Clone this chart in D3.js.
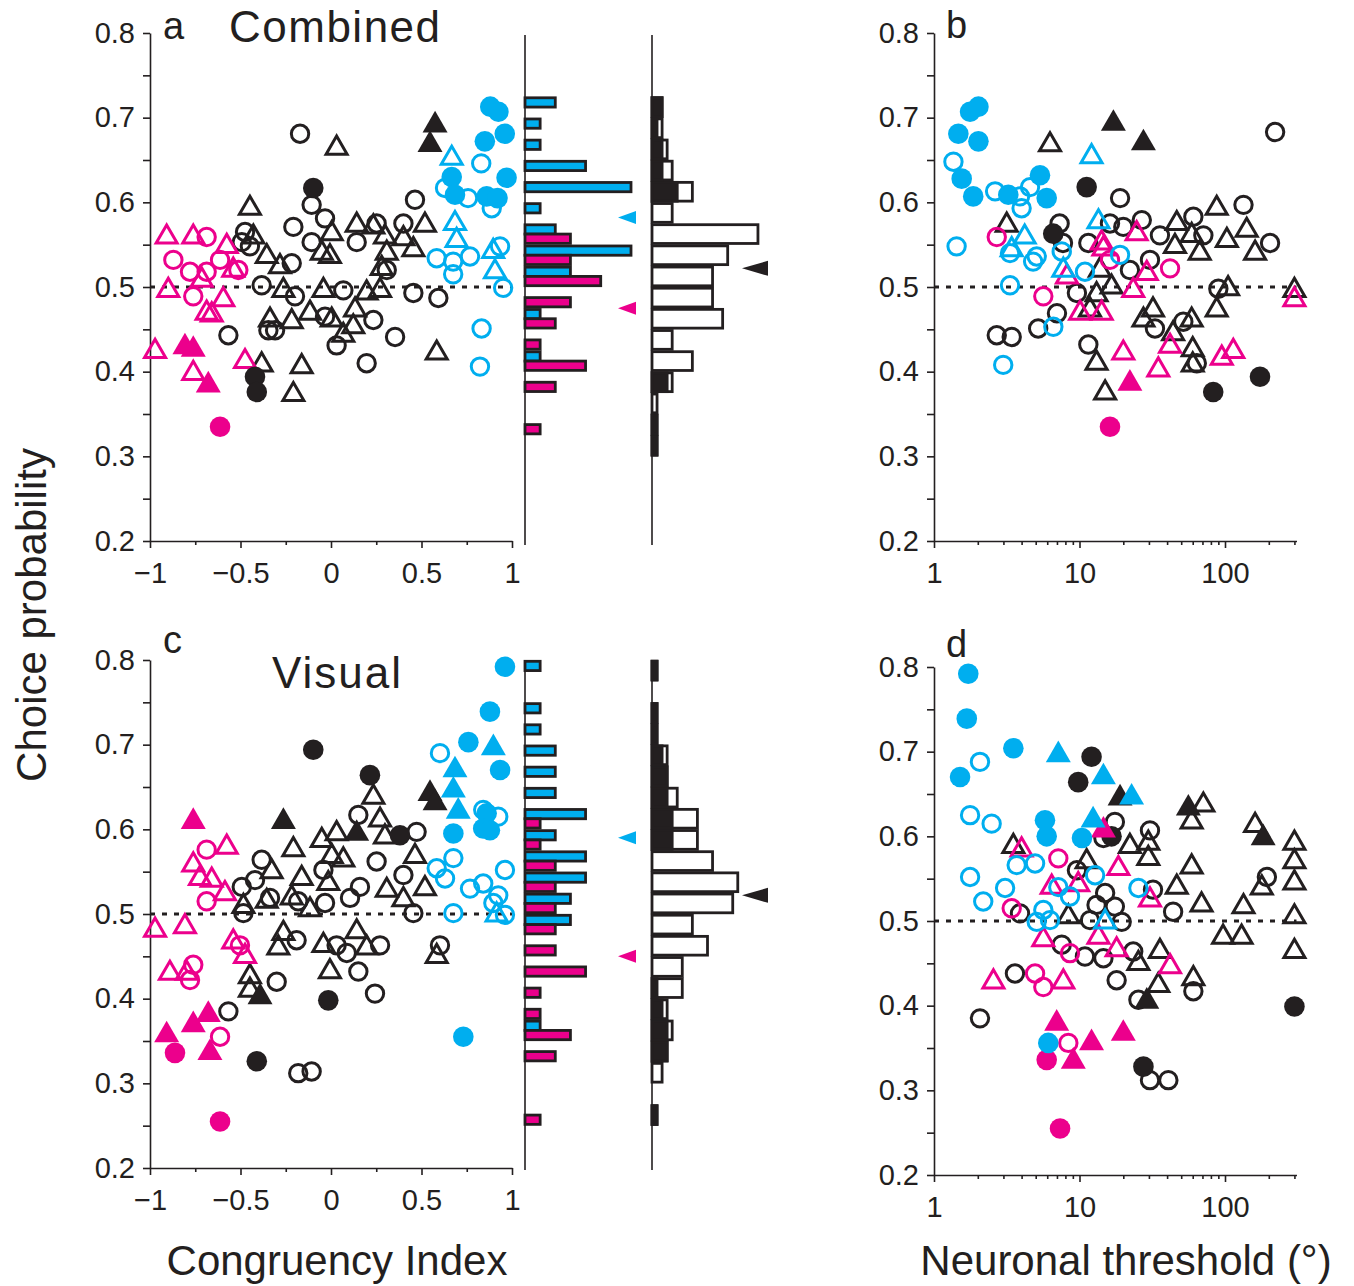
<!DOCTYPE html>
<html>
<head>
<meta charset="utf-8">
<script src="https://cdnjs.cloudflare.com/ajax/libs/d3/7.8.5/d3.min.js"></script>
<style>
body { margin: 0; background: #fff; }
svg { font-family: "Liberation Sans", Arial, Helvetica, sans-serif; }
</style>
</head>
<body>
<script>
// tick values
var cpMajor = [0.2, 0.3, 0.4, 0.5, 0.6, 0.7, 0.8];
var cpMinor = [0.25, 0.35, 0.45, 0.55, 0.65, 0.75];
var ciMajor = [-1, -0.5, 0, 0.5, 1];
var ciMinor = [-0.75, -0.25, 0.25, 0.75];
var thrMajor = [1, 10, 100];
var thrMinor = [2, 3, 4, 5, 6, 7, 8, 9, 20, 30, 40, 50, 60, 70, 80, 90, 200, 300];

// codes: colour k/b/m, shape c (circle) t (triangle), upper case = filled (significant CP)
// panel a: combined CP vs congruency index  [CI, CP, code]
var combinedCI = [
  [0.88,0.713,"bC"],[0.925,0.707,"bC"],[0.85,0.672,"bC"],[0.96,0.681,"bC"],[0.97,0.629,"bC"],
  [0.667,0.630,"bC"],[0.685,0.609,"bC"],[0.86,0.607,"bC"],[0.92,0.605,"bC"],
  [0.83,0.646,"bc"],[0.63,0.617,"bc"],[0.757,0.605,"bc"],[0.888,0.593,"bc"],[0.584,0.534,"bc"],
  [0.675,0.515,"bc"],[0.768,0.536,"bc"],[0.675,0.530,"bc"],[0.934,0.548,"bc"],[0.951,0.499,"bc"],
  [0.832,0.451,"bc"],[0.823,0.406,"bc"],
  [0.667,0.652,"bt"],[0.685,0.575,"bt"],[0.694,0.555,"bt"],[0.896,0.542,"bt"],[0.906,0.518,"bt"],
  [0.575,0.691,"kT"],[0.547,0.668,"kT"],
  [-0.098,0.617,"kC"],[-0.42,0.394,"kC"],[-0.41,0.376,"kC"],
  [-0.613,0.335,"mC"],
  [-0.678,0.384,"mT"],[-0.807,0.429,"mT"],[-0.761,0.426,"mT"],
  [-0.908,0.559,"mt"],[-0.761,0.559,"mt"],[-0.576,0.548,"mt"],[-0.54,0.52,"mt"],[-0.714,0.508,"mt"],
  [-0.899,0.496,"mt"],[-0.595,0.485,"mt"],[-0.687,0.469,"mt"],[-0.659,0.467,"mt"],[-0.972,0.424,"mt"],
  [-0.761,0.398,"mt"],[-0.475,0.412,"mt"],
  [-0.687,0.559,"mc"],[-0.871,0.532,"mc"],[-0.779,0.518,"mc"],[-0.687,0.518,"mc"],[-0.613,0.532,"mc"],
  [-0.512,0.52,"mc"],[-0.761,0.489,"mc"],
  [0.031,0.664,"kt"],[-0.448,0.593,"kt"],[-0.429,0.559,"kt"],[-0.355,0.536,"kt"],[-0.282,0.524,"kt"],
  [-0.263,0.496,"kt"],[-0.337,0.461,"kt"],[-0.217,0.459,"kt"],[-0.116,0.469,"kt"],[-0.042,0.496,"kt"],
  [0.004,0.461,"kt"],[-0.051,0.54,"kt"],[-0.006,0.536,"kt"],[0.004,0.563,"kt"],[0.142,0.573,"kt"],
  [0.234,0.571,"kt"],[0.298,0.559,"kt"],[0.308,0.54,"kt"],[0.28,0.522,"kt"],[0.271,0.496,"kt"],
  [0.197,0.493,"kt"],[0.133,0.473,"kt"],[0.123,0.453,"kt"],[0.068,0.443,"kt"],[0.40,0.557,"kt"],
  [0.455,0.544,"kt"],[0.519,0.573,"kt"],[0.584,0.422,"kt"],[-0.383,0.408,"kt"],[-0.162,0.406,"kt"],
  [-0.208,0.373,"kt"],
  [-0.171,0.681,"kc"],[-0.107,0.597,"kc"],[-0.033,0.581,"kc"],[-0.208,0.571,"kc"],[-0.107,0.553,"kc"],
  [-0.475,0.565,"kc"],[-0.493,0.553,"kc"],[-0.448,0.548,"kc"],[-0.217,0.528,"kc"],[-0.383,0.502,"kc"],
  [-0.199,0.489,"kc"],[0.068,0.496,"kc"],[0.142,0.553,"kc"],[0.252,0.575,"kc"],[0.40,0.575,"kc"],
  [0.308,0.52,"kc"],[0.464,0.603,"kc"],[0.455,0.493,"kc"],[0.593,0.487,"kc"],[0.234,0.461,"kc"],
  [-0.033,0.465,"kc"],[-0.309,0.449,"kc"],[-0.346,0.449,"kc"],[0.031,0.431,"kc"],[0.354,0.441,"kc"],
  [-0.567,0.443,"kc"],[0.197,0.41,"kc"]
];

// panel b: combined CP vs neuronal threshold (deg)  [threshold, CP, code]
var combinedThr = [
  [1.77,0.707,"bC"],[2.02,0.713,"bC"],[1.47,0.681,"bC"],[2.02,0.672,"bC"],[1.55,0.628,"bC"],
  [1.86,0.607,"bC"],[3.24,0.609,"bC"],[5.35,0.632,"bC"],[5.95,0.605,"bC"],
  [1.36,0.648,"bc"],[2.63,0.613,"bc"],[3.9,0.607,"bc"],[4.0,0.593,"bc"],[4.57,0.618,"bc"],
  [1.43,0.548,"bc"],[3.33,0.54,"bc"],[5.08,0.536,"bc"],[3.33,0.502,"bc"],[6.61,0.453,"bc"],
  [2.99,0.408,"bc"],[7.55,0.542,"bc"],[10.9,0.518,"bc"],[19,0.538,"bc"],[4.8,0.53,"bc"],
  [12.1,0.654,"bt"],[13.5,0.577,"bt"],[4.2,0.559,"bt"],[3.42,0.544,"bt"],[7.74,0.52,"bt"],
  [17.1,0.693,"kT"],[27.5,0.67,"kT"],
  [11.2,0.618,"kC"],[83,0.376,"kC"],[174,0.394,"kC"],[6.6,0.563,"kC"],
  [16.2,0.335,"mC"],
  [22.2,0.386,"mT"],
  [24.7,0.563,"mt"],[14.2,0.552,"mt"],[14.6,0.545,"mt"],[29,0.516,"mt"],[23.4,0.496,"mt"],
  [8.2,0.512,"mt"],[10.1,0.469,"mt"],[14.2,0.469,"mt"],[20,0.422,"mt"],[41.9,0.43,"mt"],
  [34.8,0.402,"mt"],[95,0.416,"mt"],[114,0.424,"mt"],[300,0.485,"mt"],
  [2.7,0.559,"mc"],[5.64,0.489,"mc"],[41.9,0.522,"mc"],[16.2,0.532,"mc"],
  [6.27,0.668,"kt"],[3.16,0.573,"kt"],[46.6,0.575,"kt"],[87.7,0.593,"kt"],[141,0.567,"kt"],
  [103,0.555,"kt"],[161,0.54,"kt"],[67,0.54,"kt"],[59,0.561,"kt"],[45.3,0.548,"kt"],
  [13.8,0.52,"kt"],[16.6,0.5,"kt"],[13.1,0.491,"kt"],[11.8,0.473,"kt"],[105,0.498,"kt"],
  [87.7,0.473,"kt"],[300,0.496,"kt"],[32,0.473,"kt"],[27.5,0.461,"kt"],[59,0.461,"kt"],
  [44,0.445,"kt"],[60,0.426,"kt"],[60,0.408,"kt"],[13.1,0.41,"kt"],[15,0.375,"kt"],
  [221,0.683,"kc"],[19,0.605,"kc"],[134,0.597,"kc"],[60.6,0.583,"kc"],[7.3,0.575,"kc"],
  [16.2,0.575,"kc"],[20,0.571,"kc"],[26.8,0.579,"kc"],[35.7,0.561,"kc"],[71,0.561,"kc"],
  [204,0.552,"kc"],[11.5,0.552,"kc"],[7.7,0.552,"kc"],[22.2,0.52,"kc"],[30.5,0.532,"kc"],
  [90,0.498,"kc"],[9.6,0.493,"kc"],[7.0,0.469,"kc"],[5.2,0.451,"kc"],[2.7,0.443,"kc"],
  [3.42,0.441,"kc"],[11.5,0.432,"kc"],[33,0.451,"kc"],[51.7,0.459,"kc"],[64,0.41,"kc"]
];

// panel c: visual CP vs congruency index
var visualCI = [
  [0.961,0.792,"bC"],[0.878,0.739,"bC"],[0.759,0.703,"bC"],[0.934,0.67,"bC"],[0.86,0.619,"bC"],
  [0.841,0.601,"bC"],[0.676,0.595,"bC"],[0.878,0.599,"bC"],[0.731,0.355,"bC"],
  [0.897,0.696,"bT"],[0.685,0.67,"bT"],[0.676,0.646,"bT"],[0.703,0.621,"bT"],
  [0.602,0.69,"bc"],[0.841,0.623,"bc"],[0.924,0.615,"bc"],[0.676,0.566,"bc"],[0.584,0.554,"bc"],
  [0.63,0.542,"bc"],[0.961,0.552,"bc"],[0.768,0.53,"bc"],[0.841,0.536,"bc"],[0.924,0.522,"bc"],
  [0.897,0.513,"bc"],[0.676,0.501,"bc"],[0.961,0.499,"bc"],
  [0.915,0.499,"bt"],
  [-0.098,0.694,"kC"],[0.215,0.664,"kC"],[0.381,0.593,"kC"],[-0.015,0.398,"kC"],[-0.41,0.326,"kC"],
  [-0.263,0.609,"kT"],[0.547,0.642,"kT"],[0.575,0.631,"kT"],[0.142,0.595,"kT"],[-0.392,0.402,"kT"],
  [-0.761,0.609,"mT"],[-0.908,0.357,"mT"],[-0.761,0.369,"mT"],[-0.678,0.381,"mT"],[-0.669,0.336,"mT"],
  [-0.862,0.336,"mC"],[-0.613,0.255,"mC"],
  [-0.576,0.579,"mt"],[-0.761,0.558,"mt"],[-0.724,0.542,"mt"],[-0.659,0.54,"mt"],[-0.586,0.524,"mt"],
  [-0.972,0.481,"mt"],[-0.807,0.485,"mt"],[-0.54,0.467,"mt"],[-0.475,0.45,"mt"],[-0.89,0.43,"mt"],
  [-0.797,0.43,"mt"],
  [-0.687,0.576,"mc"],[-0.687,0.515,"mc"],[-0.761,0.44,"mc"],[-0.779,0.422,"mc"],[-0.613,0.355,"mc"],
  [-0.503,0.463,"mc"],
  [0.234,0.638,"kt"],[0.271,0.611,"kt"],[0.298,0.591,"kt"],[0.031,0.595,"kt"],[-0.051,0.587,"kt"],
  [0.004,0.568,"kt"],[0.068,0.564,"kt"],[-0.208,0.576,"kt"],[-0.328,0.55,"kt"],[-0.162,0.542,"kt"],
  [-0.015,0.536,"kt"],[-0.217,0.519,"kt"],[-0.355,0.515,"kt"],[-0.484,0.509,"kt"],[-0.116,0.505,"kt"],
  [0.308,0.528,"kt"],[0.40,0.517,"kt"],[0.464,0.568,"kt"],[0.519,0.53,"kt"],[-0.263,0.477,"kt"],
  [-0.291,0.46,"kt"],[-0.042,0.463,"kt"],[0.142,0.479,"kt"],[0.197,0.46,"kt"],[-0.006,0.432,"kt"],
  [-0.448,0.426,"kt"],[-0.448,0.41,"kt"],[0.584,0.45,"kt"],
  [0.151,0.617,"kc"],[0.473,0.597,"kc"],[-0.383,0.564,"kc"],[0.252,0.562,"kc"],[0.40,0.546,"kc"],
  [-0.493,0.532,"kc"],[-0.42,0.54,"kc"],[-0.337,0.519,"kc"],[-0.181,0.515,"kc"],[-0.033,0.513,"kc"],
  [0.105,0.519,"kc"],[0.16,0.532,"kc"],[-0.042,0.552,"kc"],[0.455,0.501,"kc"],[-0.19,0.469,"kc"],
  [0.031,0.463,"kc"],[0.087,0.454,"kc"],[0.271,0.463,"kc"],[0.602,0.463,"kc"],[0.151,0.432,"kc"],
  [0.243,0.406,"kc"],[-0.30,0.42,"kc"],[-0.567,0.385,"kc"],[-0.181,0.312,"kc"],[-0.107,0.314,"kc"],
  [-0.484,0.501,"kc"]
];

// panel d: visual CP vs neuronal threshold (deg)
var visualThr = [
  [1.72,0.792,"bC"],[1.68,0.739,"bC"],[3.51,0.704,"bC"],[1.51,0.67,"bC"],[5.79,0.619,"bC"],
  [5.95,0.6,"bC"],[10.4,0.598,"bC"],[6.1,0.356,"bC"],
  [7.15,0.696,"bT"],[14.6,0.67,"bT"],[22.8,0.646,"bT"],[12.4,0.619,"bT"],
  [2.07,0.688,"bc"],[1.77,0.625,"bc"],[2.49,0.615,"bc"],[3.7,0.566,"bc"],[4.95,0.568,"bc"],
  [1.77,0.552,"bc"],[3.08,0.539,"bc"],[2.18,0.523,"bc"],[5.64,0.513,"bc"],[5.08,0.499,"bc"],
  [6.27,0.501,"bc"],[7.15,0.54,"bc"],[8.6,0.529,"bc"],[12.8,0.554,"bc"],[25.4,0.539,"bc"],
  [15,0.499,"bt"],
  [12.1,0.694,"kC"],[9.8,0.664,"kC"],[300,0.399,"kC"],[27.5,0.328,"kC"],[16.6,0.6,"kC"],
  [19,0.645,"kT"],[56,0.633,"kT"],[183,0.598,"kT"],[29,0.405,"kT"],
  [7.35,0.255,"mC"],[5.95,0.336,"mC"],
  [6.97,0.379,"mT"],[12.1,0.356,"mT"],[20,0.367,"mT"],[9.07,0.334,"mT"],[14.6,0.607,"mT"],
  [7.15,0.574,"mc"],[3.42,0.515,"mc"],[8.6,0.462,"mc"],[4.95,0.438,"mc"],[5.64,0.422,"mc"],
  [8.38,0.356,"mc"],
  [4.0,0.584,"mt"],[18.5,0.562,"mt"],[9.8,0.543,"mt"],[30.5,0.525,"mt"],[5.64,0.478,"mt"],
  [13.5,0.481,"mt"],[18,0.466,"mt"],[41.9,0.446,"mt"],[2.56,0.428,"mt"],[7.74,0.428,"mt"],
  [6.44,0.54,"mt"],
  [71,0.637,"kt"],[59,0.617,"kt"],[161,0.613,"kt"],[300,0.592,"kt"],[300,0.57,"kt"],
  [300,0.545,"kt"],[300,0.505,"kt"],[300,0.464,"kt"],[29.7,0.574,"kt"],[29.7,0.592,"kt"],
  [22.2,0.588,"kt"],[59,0.564,"kt"],[46.6,0.54,"kt"],[69,0.519,"kt"],[134,0.517,"kt"],
  [179,0.539,"kt"],[97,0.481,"kt"],[130,0.481,"kt"],[3.51,0.588,"kt"],[11.2,0.57,"kt"],
  [8.38,0.505,"kt"],[35.7,0.464,"kt"],[25.4,0.45,"kt"],[34.8,0.424,"kt"],[60.6,0.432,"kt"],
  [17.5,0.617,"kc"],[30.5,0.607,"kc"],[194,0.552,"kc"],[14.6,0.598,"kc"],[9.6,0.56,"kc"],
  [13.1,0.519,"kc"],[17.5,0.517,"kc"],[15,0.533,"kc"],[11.8,0.501,"kc"],[19.5,0.499,"kc"],
  [3.9,0.509,"kc"],[7.55,0.472,"kc"],[10.9,0.458,"kc"],[14.6,0.456,"kc"],[23.4,0.464,"kc"],
  [18,0.43,"kc"],[3.6,0.438,"kc"],[2.07,0.385,"kc"],[44,0.511,"kc"],[60.6,0.417,"kc"],
  [25.4,0.407,"kc"],[30.5,0.312,"kc"],[40.8,0.312,"kc"],[32,0.537,"kc"]
];

// histogram bins (lower edges, width 0.025)
var binEdges = [0.25,0.275,0.3,0.325,0.35,0.375,0.4,0.425,0.45,0.475,0.5,0.525,
                0.55,0.575,0.6,0.625,0.65,0.675,0.7,0.725,0.75,0.775];
var combCongruent = [0,0,0,0,0,0,1,0,1,0,3,7,2,1,7,4,1,1,2,0,0,0];
var combOpposite  = [0,0,0,1,0,2,4,1,2,3,5,3,3,0,0,0,0,0,0,0,0,0];
var combAll       = [0,0,1,1,1,4,8,4,14,12,12,15,21,4,8,4,3,2,2,0,0,0];
var combSig       = [0,0,1,1,0,3,0,0,0,0,0,0,0,0,5,2,2,1,2,0,0,0];
var visCongruent  = [0,0,0,0,1,0,0,0,0,3,3,4,4,2,4,2,2,2,1,1,0,1];
var visOpposite   = [1,0,0,2,3,1,1,4,2,2,2,2,2,1,1,0,0,0,0,0,0,0];
var visAll        = [1,0,2,3,4,3,6,6,11,8,16,17,12,9,9,5,3,3,1,1,0,1];
var visSig        = [1,0,0,3,3,2,1,0,0,0,0,0,0,4,4,3,3,2,1,1,0,1];
// means marked by arrows: congruent, opposite, all
var combMeans = [0.582, 0.475, 0.522];
var visMeans  = [0.590, 0.450, 0.522];

var colors = { k: "#231f20", b: "#00aeef", m: "#ec008c" };

var svg = d3.select("body").append("svg")
    .attr("width", 1354)
    .attr("height", 1286);

var xCI = d3.scaleLinear().domain([-1, 1]).range([150, 512]);
var xThr = d3.scaleLog().domain([1, 310]).range([934, 934 + 145.5 * Math.log10(310)]);
var yTop = d3.scaleLinear().domain([0.2, 0.8]).range([541, 33]);
var yVis = d3.scaleLinear().domain([0.2, 0.8]).range([1168, 660]);
var yThrVis = d3.scaleLinear().domain([0.2, 0.8]).range([1175, 667]);
var xh1 = d3.scaleLinear().domain([0, 7]).range([525, 631]);
var xh2 = d3.scaleLinear().domain([0, 22]).range([652, 763]);

function fmtCI(d) { return d < 0 ? "\u2212" + Math.abs(d) : String(d); }

function styleAxis(g) {
  g.selectAll("path, line").attr("stroke", colors.k).attr("stroke-width", 1.6);
  g.selectAll("text").attr("font-size", 29).attr("fill", colors.k);
}

function drawAxes(x, y, xMajor, xMinor, xFmt, yPos) {
  var yAx = svg.append("g").attr("transform", "translate(" + x.range()[0] + ",0)");
  yAx.call(d3.axisLeft(y).tickValues(cpMajor).tickFormat(d3.format(".1f")).tickSize(7).tickSizeOuter(0).tickPadding(8));
  styleAxis(yAx);
  var yMin = svg.append("g").attr("transform", "translate(" + x.range()[0] + ",0)");
  yMin.call(d3.axisLeft(y).tickValues(cpMinor).tickFormat("").tickSize(7).tickSizeOuter(0));
  yMin.select(".domain").remove();
  styleAxis(yMin);

  var xAx = svg.append("g").attr("transform", "translate(0," + yPos + ")");
  xAx.call(d3.axisBottom(x).tickValues(xMajor).tickFormat(xFmt).tickSize(7).tickSizeOuter(0).tickPadding(14));
  styleAxis(xAx);
  var xMin = svg.append("g").attr("transform", "translate(0," + yPos + ")");
  xMin.call(d3.axisBottom(x).tickValues(xMinor).tickFormat("").tickSize(4).tickSizeOuter(0));
  xMin.select(".domain").remove();
  styleAxis(xMin);

  // chance line at CP = 0.5
  svg.append("line")
    .attr("x1", x.range()[0]).attr("x2", x.range()[1])
    .attr("y1", y(0.5)).attr("y2", y(0.5))
    .attr("stroke", colors.k).attr("stroke-width", 3)
    .attr("stroke-dasharray", "5,7");
}

var rank = { kc: 0, kt: 1, mc: 2, mt: 3, bc: 4, bt: 5, kC: 6, kT: 7, mC: 8, mT: 9, bC: 10, bT: 11 };

function drawPoints(data, x, y) {
  var pts = data.slice().sort(function(a, b) { return rank[a[2]] - rank[b[2]]; });
  var g = svg.append("g");
  pts.forEach(function(p) {
    var col = colors[p[2][0]];
    var kind = p[2][1];
    var filled = kind === kind.toUpperCase();
    var tri = kind.toLowerCase() === "t";
    var cx = x(p[0]), cy = y(p[1]);
    if (tri) {
      var s = filled ? 25 : 21;
      g.append("path")
        .attr("d", d3.symbol().type(d3.symbolTriangle).size(s * s * Math.sqrt(3) / 4)())
        .attr("transform", "translate(" + cx + "," + cy + ")")
        .attr("fill", filled ? col : "none")
        .attr("stroke", filled ? "none" : col)
        .attr("stroke-width", 3)
        .attr("stroke-linejoin", "miter");
    } else {
      g.append("circle")
        .attr("cx", cx).attr("cy", cy)
        .attr("r", filled ? 10.3 : 8.7)
        .attr("fill", filled ? col : "none")
        .attr("stroke", filled ? "none" : col)
        .attr("stroke-width", 3);
    }
  });
}

function drawHists(y, congruent, opposite, all, sig, means, yBottom) {
  var half = 0.0125;
  // axis lines of both histograms
  [525, 652].forEach(function(xx) {
    svg.append("line")
      .attr("x1", xx).attr("x2", xx)
      .attr("y1", y(0.8) + 2).attr("y2", yBottom)
      .attr("stroke", colors.k).attr("stroke-width", 1.6);
  });
  // congruent (upper half of bin) and opposite (lower half)
  binEdges.forEach(function(e, i) {
    if (congruent[i] > 0) {
      svg.append("rect")
        .attr("x", xh1(0)).attr("width", xh1(congruent[i]) - xh1(0))
        .attr("y", y(e + 2 * half) + 1.3).attr("height", y(e + half) - y(e + 2 * half) - 1.3)
        .attr("fill", colors.b).attr("stroke", colors.k).attr("stroke-width", 2.8);
    }
    if (opposite[i] > 0) {
      svg.append("rect")
        .attr("x", xh1(0)).attr("width", xh1(opposite[i]) - xh1(0))
        .attr("y", y(e + half)).attr("height", y(e) - y(e + half) - 1.3)
        .attr("fill", colors.m).attr("stroke", colors.k).attr("stroke-width", 2.8);
    }
    if (all[i] > 0) {
      svg.append("rect")
        .attr("x", xh2(0)).attr("width", xh2(all[i]) - xh2(0))
        .attr("y", y(e + 2 * half) + 1.2).attr("height", y(e) - y(e + 2 * half) - 2.4)
        .attr("fill", "#fff").attr("stroke", colors.k).attr("stroke-width", 2.8);
    }
    if (sig[i] > 0) {
      svg.append("rect")
        .attr("x", xh2(0)).attr("width", xh2(sig[i]) - xh2(0))
        .attr("y", y(e + 2 * half) + 1.2).attr("height", y(e) - y(e + 2 * half) - 2.4)
        .attr("fill", colors.k).attr("stroke", colors.k).attr("stroke-width", 2.8);
    }
  });
  // mean arrows
  var arrows = [[means[0], colors.b, 618, 18, 6.5], [means[1], colors.m, 618, 18, 6.5], [means[2], colors.k, 742, 26, 7.5]];
  arrows.forEach(function(a) {
    var yy = y(a[0]);
    svg.append("path")
      .attr("d", "M" + a[2] + "," + yy + "L" + (a[2] + a[3]) + "," + (yy - a[4]) + "L" + (a[2] + a[3]) + "," + (yy + a[4]) + "Z")
      .attr("fill", a[1]);
  });
}

// panels
drawAxes(xCI, yTop, ciMajor, ciMinor, fmtCI, 541);
drawHists(yTop, combCongruent, combOpposite, combAll, combSig, combMeans, 545);
drawPoints(combinedCI, xCI, yTop);

drawAxes(xThr, yTop, thrMajor, thrMinor, d3.format("d"), 541);
drawPoints(combinedThr, xThr, yTop);

drawAxes(xCI, yVis, ciMajor, ciMinor, fmtCI, 1168);
drawHists(yVis, visCongruent, visOpposite, visAll, visSig, visMeans, 1170);
drawPoints(visualCI, xCI, yVis);

drawAxes(xThr, yThrVis, thrMajor, thrMinor, d3.format("d"), 1175);
drawPoints(visualThr, xThr, yThrVis);

// labels
function label(txt, x, y, size, extra) {
  var t = svg.append("text").attr("x", x).attr("y", y)
    .attr("font-size", size).attr("fill", colors.k).text(txt);
  if (extra) extra(t);
  return t;
}
label("a", 163, 39, 38);
label("Combined", 229, 42, 44, function(t) { t.attr("letter-spacing", 1.5); });
label("b", 946, 38, 38);
label("c", 163, 653, 38);
label("Visual", 272, 688, 44, function(t) { t.attr("letter-spacing", 2); });
label("d", 946, 657, 38);
label("Choice probability", 46, 615, 42, function(t) {
  t.attr("text-anchor", "middle").attr("transform", "rotate(-90,46,615)");
});
label("Congruency Index", 337, 1275, 42, function(t) { t.attr("text-anchor", "middle"); });
label("Neuronal threshold (\u00b0)", 1126, 1275, 42, function(t) { t.attr("text-anchor", "middle"); });
</script>
</body>
</html>
